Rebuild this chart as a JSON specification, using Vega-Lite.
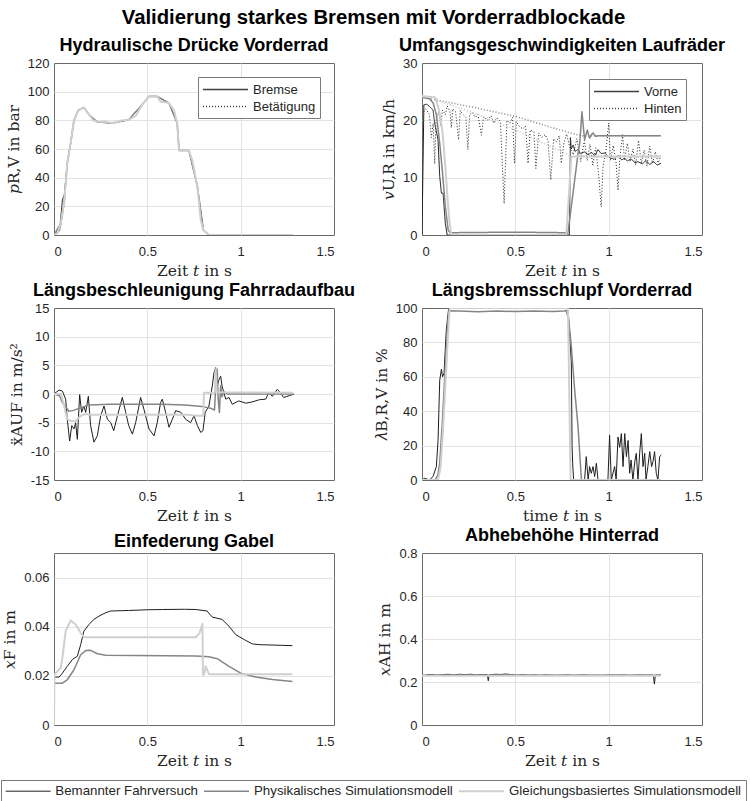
{
"$schema": "https://vega.github.io/schema/vega-lite/v6.json",
"title": {"text": "Validierung starkes Bremsen mit Vorderradblockade", "fontSize": 20.3, "font": "Liberation Sans", "fontWeight": "bold", "color": "#000000", "anchor": "middle", "offset": 8},
"padding": {"left": 0, "top": 8, "right": 4, "bottom": 0},
"bounds": "flush",
"columns": 2,
"spacing": {"row": 73, "column": 88},
"resolve": {"scale": {"strokeDash": "independent"}, "legend": {"strokeDash": "independent"}},
"datasets": {
"p1": [
{"t":0,"v":0,"m":"F","k":"Bremse"},{"t":0.03,"v":3,"m":"F","k":"Bremse"},{"t":0.045,"v":24.5,"m":"F","k":"Bremse"},{"t":0.055,"v":28,"m":"F","k":"Bremse"},{"t":0.071,"v":50,"m":"F","k":"Bremse"},{"t":0.089,"v":64,"m":"F","k":"Bremse"},{"t":0.107,"v":80,"m":"F","k":"Bremse"},{"t":0.13,"v":87,"m":"F","k":"Bremse"},{"t":0.16,"v":89,"m":"F","k":"Bremse"},{"t":0.1875,"v":84,"m":"F","k":"Bremse"},{"t":0.23,"v":79,"m":"F","k":"Bremse"},{"t":0.31,"v":78,"m":"F","k":"Bremse"},{"t":0.4,"v":80.4,"m":"F","k":"Bremse"},{"t":0.473,"v":91,"m":"F","k":"Bremse"},{"t":0.509,"v":96.7,"m":"F","k":"Bremse"},{"t":0.553,"v":96.7,"m":"F","k":"Bremse"},{"t":0.616,"v":92,"m":"F","k":"Bremse"},{"t":0.66,"v":78,"m":"F","k":"Bremse"},{"t":0.67,"v":59,"m":"F","k":"Bremse"},{"t":0.723,"v":59,"m":"F","k":"Bremse"},{"t":0.768,"v":34,"m":"F","k":"Bremse"},{"t":0.8,"v":3.5,"m":"F","k":"Bremse"},{"t":0.83,"v":0,"m":"F","k":"Bremse"},{"t":1.28,"v":0,"m":"F","k":"Bremse"},
{"t":0,"v":0,"m":"F","k":"Betätigung"},{"t":0.036,"v":6,"m":"F","k":"Betätigung"},{"t":0.054,"v":22,"m":"F","k":"Betätigung"},{"t":0.071,"v":50,"m":"F","k":"Betätigung"},{"t":0.089,"v":64,"m":"F","k":"Betätigung"},{"t":0.107,"v":80,"m":"F","k":"Betätigung"},{"t":0.13,"v":87,"m":"F","k":"Betätigung"},{"t":0.16,"v":89,"m":"F","k":"Betätigung"},{"t":0.1875,"v":84,"m":"F","k":"Betätigung"},{"t":0.23,"v":79,"m":"F","k":"Betätigung"},{"t":0.31,"v":78,"m":"F","k":"Betätigung"},{"t":0.4,"v":80.4,"m":"F","k":"Betätigung"},{"t":0.473,"v":91,"m":"F","k":"Betätigung"},{"t":0.509,"v":96.7,"m":"F","k":"Betätigung"},{"t":0.553,"v":96.7,"m":"F","k":"Betätigung"},{"t":0.616,"v":92,"m":"F","k":"Betätigung"},{"t":0.66,"v":78,"m":"F","k":"Betätigung"},{"t":0.67,"v":59,"m":"F","k":"Betätigung"},{"t":0.723,"v":59,"m":"F","k":"Betätigung"},{"t":0.768,"v":34,"m":"F","k":"Betätigung"},{"t":0.8,"v":3.5,"m":"F","k":"Betätigung"},{"t":0.83,"v":0,"m":"F","k":"Betätigung"},{"t":1.28,"v":0,"m":"F","k":"Betätigung"},
{"t":0,"v":0,"m":"P","k":"Bremse"},{"t":0.036,"v":8,"m":"P","k":"Bremse"},{"t":0.054,"v":22,"m":"P","k":"Bremse"},{"t":0.071,"v":50,"m":"P","k":"Bremse"},{"t":0.089,"v":64,"m":"P","k":"Bremse"},{"t":0.107,"v":80,"m":"P","k":"Bremse"},{"t":0.13,"v":87,"m":"P","k":"Bremse"},{"t":0.16,"v":89,"m":"P","k":"Bremse"},{"t":0.1875,"v":84,"m":"P","k":"Bremse"},{"t":0.23,"v":79,"m":"P","k":"Bremse"},{"t":0.31,"v":78,"m":"P","k":"Bremse"},{"t":0.4,"v":80.4,"m":"P","k":"Bremse"},{"t":0.473,"v":91,"m":"P","k":"Bremse"},{"t":0.509,"v":96.7,"m":"P","k":"Bremse"},{"t":0.553,"v":96.7,"m":"P","k":"Bremse"},{"t":0.616,"v":92,"m":"P","k":"Bremse"},{"t":0.66,"v":78,"m":"P","k":"Bremse"},{"t":0.67,"v":59,"m":"P","k":"Bremse"},{"t":0.723,"v":59,"m":"P","k":"Bremse"},{"t":0.768,"v":34,"m":"P","k":"Bremse"},{"t":0.8,"v":3.5,"m":"P","k":"Bremse"},{"t":0.83,"v":0,"m":"P","k":"Bremse"},{"t":1.28,"v":0,"m":"P","k":"Bremse"},
{"t":0,"v":0,"m":"G","k":"Bremse"},{"t":0.02,"v":1.5,"m":"G","k":"Bremse"},{"t":0.036,"v":8,"m":"G","k":"Bremse"},{"t":0.054,"v":22,"m":"G","k":"Bremse"},{"t":0.071,"v":50,"m":"G","k":"Bremse"},{"t":0.089,"v":64,"m":"G","k":"Bremse"},{"t":0.107,"v":80,"m":"G","k":"Bremse"},{"t":0.13,"v":87,"m":"G","k":"Bremse"},{"t":0.16,"v":89,"m":"G","k":"Bremse"},{"t":0.1875,"v":84,"m":"G","k":"Bremse"},{"t":0.21,"v":80,"m":"G","k":"Bremse"},{"t":0.23,"v":79,"m":"G","k":"Bremse"},{"t":0.27,"v":79,"m":"G","k":"Bremse"},{"t":0.295,"v":78.5,"m":"G","k":"Bremse"},{"t":0.31,"v":78,"m":"G","k":"Bremse"},{"t":0.34,"v":79,"m":"G","k":"Bremse"},{"t":0.366,"v":80,"m":"G","k":"Bremse"},{"t":0.4,"v":80.4,"m":"G","k":"Bremse"},{"t":0.4375,"v":83,"m":"G","k":"Bremse"},{"t":0.473,"v":91,"m":"G","k":"Bremse"},{"t":0.509,"v":96.7,"m":"G","k":"Bremse"},{"t":0.553,"v":96.7,"m":"G","k":"Bremse"},{"t":0.571,"v":93,"m":"G","k":"Bremse"},{"t":0.6,"v":92.5,"m":"G","k":"Bremse"},{"t":0.616,"v":92,"m":"G","k":"Bremse"},{"t":0.643,"v":87,"m":"G","k":"Bremse"},{"t":0.66,"v":78,"m":"G","k":"Bremse"},{"t":0.67,"v":59,"m":"G","k":"Bremse"},{"t":0.723,"v":59,"m":"G","k":"Bremse"},{"t":0.741,"v":52,"m":"G","k":"Bremse"},{"t":0.768,"v":34,"m":"G","k":"Bremse"},{"t":0.786,"v":10.5,"m":"G","k":"Bremse"},{"t":0.8,"v":3.5,"m":"G","k":"Bremse"},{"t":0.83,"v":0,"m":"G","k":"Bremse"},{"t":1.28,"v":0,"m":"G","k":"Bremse"}
],
"p2": [
{"t":0,"v":0,"m":"F","k":"Vorne"},{"t":0.01,"v":22.7,"m":"F","k":"Vorne"},{"t":0.025,"v":22.8,"m":"F","k":"Vorne"},{"t":0.041,"v":22.4,"m":"F","k":"Vorne"},{"t":0.059,"v":21.8,"m":"F","k":"Vorne"},{"t":0.068,"v":19.5,"m":"F","k":"Vorne"},{"t":0.086,"v":16.6,"m":"F","k":"Vorne"},{"t":0.095,"v":10.2,"m":"F","k":"Vorne"},{"t":0.104,"v":7.3,"m":"F","k":"Vorne"},{"t":0.113,"v":7.3,"m":"F","k":"Vorne"},{"t":0.125,"v":2,"m":"F","k":"Vorne"},{"t":0.135,"v":0,"m":"F","k":"Vorne"},{"t":0.79,"v":0,"m":"F","k":"Vorne"},{"t":0.795,"v":17,"m":"F","k":"Vorne"},{"t":0.8,"v":15,"m":"F","k":"Vorne"},{"t":0.81,"v":15.7,"m":"F","k":"Vorne"},{"t":0.82,"v":14.6,"m":"F","k":"Vorne"},{"t":0.836,"v":14.9,"m":"F","k":"Vorne"},{"t":0.85,"v":14.2,"m":"F","k":"Vorne"},{"t":0.87,"v":14.5,"m":"F","k":"Vorne"},{"t":0.89,"v":14,"m":"F","k":"Vorne"},{"t":0.91,"v":14.4,"m":"F","k":"Vorne"},{"t":0.925,"v":13.8,"m":"F","k":"Vorne"},{"t":0.943,"v":14.9,"m":"F","k":"Vorne"},{"t":0.96,"v":14.2,"m":"F","k":"Vorne"},{"t":0.98,"v":14.3,"m":"F","k":"Vorne"},{"t":1.0,"v":13.6,"m":"F","k":"Vorne"},{"t":1.03,"v":13.2,"m":"F","k":"Vorne"},{"t":1.05,"v":13.9,"m":"F","k":"Vorne"},{"t":1.07,"v":13.1,"m":"F","k":"Vorne"},{"t":1.086,"v":13.4,"m":"F","k":"Vorne"},{"t":1.1,"v":12.9,"m":"F","k":"Vorne"},{"t":1.12,"v":13.3,"m":"F","k":"Vorne"},{"t":1.14,"v":12.6,"m":"F","k":"Vorne"},{"t":1.157,"v":12.8,"m":"F","k":"Vorne"},{"t":1.18,"v":12.4,"m":"F","k":"Vorne"},{"t":1.2,"v":13,"m":"F","k":"Vorne"},{"t":1.22,"v":12.3,"m":"F","k":"Vorne"},{"t":1.24,"v":12.8,"m":"F","k":"Vorne"},{"t":1.26,"v":12.2,"m":"F","k":"Vorne"},{"t":1.28,"v":12.5,"m":"F","k":"Vorne"},
{"t":0.01,"v":21.5,"m":"F","k":"Hinten"},{"t":0.02,"v":22,"m":"F","k":"Hinten"},{"t":0.04,"v":21,"m":"F","k":"Hinten"},{"t":0.05,"v":17,"m":"F","k":"Hinten"},{"t":0.06,"v":19.5,"m":"F","k":"Hinten"},{"t":0.068,"v":12.4,"m":"F","k":"Hinten"},{"t":0.075,"v":20,"m":"F","k":"Hinten"},{"t":0.09,"v":21.5,"m":"F","k":"Hinten"},{"t":0.1,"v":19,"m":"F","k":"Hinten"},{"t":0.11,"v":21.8,"m":"F","k":"Hinten"},{"t":0.125,"v":21,"m":"F","k":"Hinten"},{"t":0.135,"v":22.5,"m":"F","k":"Hinten"},{"t":0.15,"v":21.5,"m":"F","k":"Hinten"},{"t":0.157,"v":18.7,"m":"F","k":"Hinten"},{"t":0.165,"v":22,"m":"F","k":"Hinten"},{"t":0.18,"v":21.5,"m":"F","k":"Hinten"},{"t":0.196,"v":16.6,"m":"F","k":"Hinten"},{"t":0.205,"v":21.7,"m":"F","k":"Hinten"},{"t":0.22,"v":21,"m":"F","k":"Hinten"},{"t":0.235,"v":20.5,"m":"F","k":"Hinten"},{"t":0.246,"v":14.9,"m":"F","k":"Hinten"},{"t":0.255,"v":21,"m":"F","k":"Hinten"},{"t":0.27,"v":21.4,"m":"F","k":"Hinten"},{"t":0.285,"v":20.5,"m":"F","k":"Hinten"},{"t":0.3,"v":21,"m":"F","k":"Hinten"},{"t":0.318,"v":17.4,"m":"F","k":"Hinten"},{"t":0.33,"v":20.6,"m":"F","k":"Hinten"},{"t":0.35,"v":20,"m":"F","k":"Hinten"},{"t":0.37,"v":20.8,"m":"F","k":"Hinten"},{"t":0.385,"v":19.5,"m":"F","k":"Hinten"},{"t":0.4,"v":20.5,"m":"F","k":"Hinten"},{"t":0.42,"v":19.8,"m":"F","k":"Hinten"},{"t":0.44,"v":5.5,"m":"F","k":"Hinten"},{"t":0.455,"v":20,"m":"F","k":"Hinten"},{"t":0.47,"v":19.5,"m":"F","k":"Hinten"},{"t":0.485,"v":20.5,"m":"F","k":"Hinten"},{"t":0.496,"v":12.5,"m":"F","k":"Hinten"},{"t":0.505,"v":19.8,"m":"F","k":"Hinten"},{"t":0.52,"v":19,"m":"F","k":"Hinten"},{"t":0.54,"v":18.5,"m":"F","k":"Hinten"},{"t":0.555,"v":19,"m":"F","k":"Hinten"},{"t":0.568,"v":12.5,"m":"F","k":"Hinten"},{"t":0.58,"v":18.3,"m":"F","k":"Hinten"},{"t":0.6,"v":18,"m":"F","k":"Hinten"},{"t":0.61,"v":11.6,"m":"F","k":"Hinten"},{"t":0.625,"v":17.8,"m":"F","k":"Hinten"},{"t":0.64,"v":17,"m":"F","k":"Hinten"},{"t":0.66,"v":17.5,"m":"F","k":"Hinten"},{"t":0.675,"v":16.5,"m":"F","k":"Hinten"},{"t":0.69,"v":9.6,"m":"F","k":"Hinten"},{"t":0.705,"v":16.8,"m":"F","k":"Hinten"},{"t":0.72,"v":16.2,"m":"F","k":"Hinten"},{"t":0.735,"v":17.3,"m":"F","k":"Hinten"},{"t":0.746,"v":12.5,"m":"F","k":"Hinten"},{"t":0.76,"v":16,"m":"F","k":"Hinten"},{"t":0.775,"v":17.6,"m":"F","k":"Hinten"},{"t":0.79,"v":15.5,"m":"F","k":"Hinten"},{"t":0.81,"v":14,"m":"F","k":"Hinten"},{"t":0.83,"v":16.8,"m":"F","k":"Hinten"},{"t":0.85,"v":12.8,"m":"F","k":"Hinten"},{"t":0.87,"v":16.5,"m":"F","k":"Hinten"},{"t":0.885,"v":13,"m":"F","k":"Hinten"},{"t":0.9,"v":15.8,"m":"F","k":"Hinten"},{"t":0.915,"v":12.2,"m":"F","k":"Hinten"},{"t":0.93,"v":15.2,"m":"F","k":"Hinten"},{"t":0.945,"v":11,"m":"F","k":"Hinten"},{"t":0.96,"v":4.9,"m":"F","k":"Hinten"},{"t":0.97,"v":12,"m":"F","k":"Hinten"},{"t":0.985,"v":14.5,"m":"F","k":"Hinten"},{"t":1.0,"v":19.5,"m":"F","k":"Hinten"},{"t":1.01,"v":13,"m":"F","k":"Hinten"},{"t":1.025,"v":15.6,"m":"F","k":"Hinten"},{"t":1.04,"v":12.5,"m":"F","k":"Hinten"},{"t":1.05,"v":7.8,"m":"F","k":"Hinten"},{"t":1.06,"v":13.5,"m":"F","k":"Hinten"},{"t":1.075,"v":17.5,"m":"F","k":"Hinten"},{"t":1.085,"v":13,"m":"F","k":"Hinten"},{"t":1.1,"v":16,"m":"F","k":"Hinten"},{"t":1.115,"v":12.8,"m":"F","k":"Hinten"},{"t":1.13,"v":15,"m":"F","k":"Hinten"},{"t":1.145,"v":12.2,"m":"F","k":"Hinten"},{"t":1.16,"v":16.5,"m":"F","k":"Hinten"},{"t":1.175,"v":12.5,"m":"F","k":"Hinten"},{"t":1.19,"v":14.8,"m":"F","k":"Hinten"},{"t":1.205,"v":12,"m":"F","k":"Hinten"},{"t":1.22,"v":15.5,"m":"F","k":"Hinten"},{"t":1.235,"v":12.5,"m":"F","k":"Hinten"},{"t":1.25,"v":14.5,"m":"F","k":"Hinten"},{"t":1.265,"v":12.6,"m":"F","k":"Hinten"},{"t":1.28,"v":13.8,"m":"F","k":"Hinten"},
{"t":0,"v":24,"m":"P","k":"Vorne"},{"t":0.04,"v":23.8,"m":"P","k":"Vorne"},{"t":0.06,"v":23,"m":"P","k":"Vorne"},{"t":0.077,"v":21,"m":"P","k":"Vorne"},{"t":0.095,"v":16,"m":"P","k":"Vorne"},{"t":0.11,"v":10.8,"m":"P","k":"Vorne"},{"t":0.125,"v":5,"m":"P","k":"Vorne"},{"t":0.14,"v":0.9,"m":"P","k":"Vorne"},{"t":0.15,"v":0.4,"m":"P","k":"Vorne"},{"t":0.5,"v":0.5,"m":"P","k":"Vorne"},{"t":0.764,"v":0.4,"m":"P","k":"Vorne"},{"t":0.78,"v":0,"m":"P","k":"Vorne"},{"t":0.8,"v":5,"m":"P","k":"Vorne"},{"t":0.818,"v":9.6,"m":"P","k":"Vorne"},{"t":0.835,"v":14,"m":"P","k":"Vorne"},{"t":0.845,"v":16,"m":"P","k":"Vorne"},{"t":0.857,"v":21.5,"m":"P","k":"Vorne"},{"t":0.864,"v":19,"m":"P","k":"Vorne"},{"t":0.871,"v":16.6,"m":"P","k":"Vorne"},{"t":0.878,"v":17.5,"m":"P","k":"Vorne"},{"t":0.886,"v":18.3,"m":"P","k":"Vorne"},{"t":0.892,"v":17.5,"m":"P","k":"Vorne"},{"t":0.898,"v":16.9,"m":"P","k":"Vorne"},{"t":0.907,"v":17.5,"m":"P","k":"Vorne"},{"t":0.916,"v":17.8,"m":"P","k":"Vorne"},{"t":0.93,"v":17.2,"m":"P","k":"Vorne"},{"t":0.943,"v":17.3,"m":"P","k":"Vorne"},{"t":1.28,"v":17.3,"m":"P","k":"Vorne"},
{"t":0,"v":24,"m":"P","k":"Hinten"},{"t":0.1,"v":23.4,"m":"P","k":"Hinten"},{"t":0.3,"v":22.1,"m":"P","k":"Hinten"},{"t":0.5,"v":20.7,"m":"P","k":"Hinten"},{"t":0.7,"v":18.7,"m":"P","k":"Hinten"},{"t":0.84,"v":17.4,"m":"P","k":"Hinten"},{"t":0.86,"v":17.3,"m":"P","k":"Hinten"},{"t":1.28,"v":17.3,"m":"P","k":"Hinten"},
{"t":0,"v":24.2,"m":"G","k":"Vorne"},{"t":0.07,"v":24,"m":"G","k":"Vorne"},{"t":0.09,"v":22,"m":"G","k":"Vorne"},{"t":0.11,"v":18,"m":"G","k":"Vorne"},{"t":0.125,"v":12,"m":"G","k":"Vorne"},{"t":0.136,"v":6.7,"m":"G","k":"Vorne"},{"t":0.148,"v":2,"m":"G","k":"Vorne"},{"t":0.157,"v":0,"m":"G","k":"Vorne"},{"t":0.773,"v":0,"m":"G","k":"Vorne"},{"t":0.785,"v":6,"m":"G","k":"Vorne"},{"t":0.8,"v":13.7,"m":"G","k":"Vorne"},{"t":1.28,"v":13.7,"m":"G","k":"Vorne"},
{"t":0,"v":24.2,"m":"G","k":"Hinten"},{"t":0.07,"v":24,"m":"G","k":"Hinten"},{"t":0.1,"v":23.2,"m":"G","k":"Hinten"},{"t":0.264,"v":21.5,"m":"G","k":"Hinten"},{"t":0.5,"v":18.3,"m":"G","k":"Hinten"},{"t":0.7,"v":15.3,"m":"G","k":"Hinten"},{"t":0.8,"v":13.7,"m":"G","k":"Hinten"},{"t":1.28,"v":13.7,"m":"G","k":"Hinten"}
],
"p3": [
{"t":0,"v":0,"m":"F"},{"t":0.027,"v":0.7,"m":"F"},{"t":0.045,"v":0.5,"m":"F"},{"t":0.0625,"v":-0.9,"m":"F"},{"t":0.071,"v":-4.4,"m":"F"},{"t":0.084,"v":-8.2,"m":"F"},{"t":0.095,"v":-5.5,"m":"F"},{"t":0.107,"v":-6.1,"m":"F"},{"t":0.116,"v":-5,"m":"F"},{"t":0.125,"v":-7.9,"m":"F"},{"t":0.1375,"v":-0.1,"m":"F"},{"t":0.148,"v":-3.2,"m":"F"},{"t":0.16,"v":-2.1,"m":"F"},{"t":0.17,"v":-3.2,"m":"F"},{"t":0.184,"v":-0.4,"m":"F"},{"t":0.196,"v":-5.5,"m":"F"},{"t":0.214,"v":-8.4,"m":"F"},{"t":0.232,"v":-7.3,"m":"F"},{"t":0.25,"v":-3.8,"m":"F"},{"t":0.268,"v":-2.1,"m":"F"},{"t":0.286,"v":-4.4,"m":"F"},{"t":0.304,"v":-5,"m":"F"},{"t":0.32,"v":-6.4,"m":"F"},{"t":0.34,"v":-3.8,"m":"F"},{"t":0.366,"v":-0.6,"m":"F"},{"t":0.384,"v":-3.2,"m":"F"},{"t":0.4,"v":-5.5,"m":"F"},{"t":0.42,"v":-7,"m":"F"},{"t":0.4375,"v":-5,"m":"F"},{"t":0.455,"v":-2.1,"m":"F"},{"t":0.464,"v":-0.6,"m":"F"},{"t":0.482,"v":-2.7,"m":"F"},{"t":0.509,"v":-6.1,"m":"F"},{"t":0.536,"v":-7.3,"m":"F"},{"t":0.553,"v":-5,"m":"F"},{"t":0.571,"v":-1.5,"m":"F"},{"t":0.58,"v":-0.9,"m":"F"},{"t":0.598,"v":-3.2,"m":"F"},{"t":0.616,"v":-5.8,"m":"F"},{"t":0.634,"v":-4.4,"m":"F"},{"t":0.652,"v":-2.9,"m":"F"},{"t":0.68,"v":-3.2,"m":"F"},{"t":0.705,"v":-4.4,"m":"F"},{"t":0.732,"v":-5,"m":"F"},{"t":0.75,"v":-3.8,"m":"F"},{"t":0.768,"v":-5.5,"m":"F"},{"t":0.786,"v":-6.7,"m":"F"},{"t":0.798,"v":-6.4,"m":"F"},{"t":0.81,"v":-3.2,"m":"F"},{"t":0.83,"v":-2.1,"m":"F"},{"t":0.848,"v":1.4,"m":"F"},{"t":0.857,"v":3.7,"m":"F"},{"t":0.866,"v":4.6,"m":"F"},{"t":0.875,"v":1.4,"m":"F"},{"t":0.884,"v":2.5,"m":"F"},{"t":0.893,"v":3.1,"m":"F"},{"t":0.9,"v":1.4,"m":"F"},{"t":0.92,"v":-0.9,"m":"F"},{"t":0.9375,"v":-0.6,"m":"F"},{"t":0.955,"v":-1.8,"m":"F"},{"t":0.99,"v":-1.2,"m":"F"},{"t":1.027,"v":-1.6,"m":"F"},{"t":1.06,"v":-1.4,"m":"F"},{"t":1.1,"v":-1,"m":"F"},{"t":1.134,"v":-0.9,"m":"F"},{"t":1.15,"v":0.2,"m":"F"},{"t":1.17,"v":-0.4,"m":"F"},{"t":1.196,"v":0.8,"m":"F"},{"t":1.214,"v":0.2,"m":"F"},{"t":1.23,"v":-0.6,"m":"F"},{"t":1.26,"v":-0.3,"m":"F"},{"t":1.286,"v":0,"m":"F"},
{"t":0,"v":0,"m":"P"},{"t":0.03,"v":-0.3,"m":"P"},{"t":0.045,"v":-1.5,"m":"P"},{"t":0.08,"v":-3,"m":"P"},{"t":0.1,"v":-2.9,"m":"P"},{"t":0.134,"v":-2.5,"m":"P"},{"t":0.1875,"v":-1.9,"m":"P"},{"t":0.3,"v":-1.8,"m":"P"},{"t":0.58,"v":-1.8,"m":"P"},{"t":0.7,"v":-1.9,"m":"P"},{"t":0.795,"v":-2.2,"m":"P"},{"t":0.84,"v":-2.5,"m":"P"},{"t":0.86,"v":-2.8,"m":"P"},{"t":0.868,"v":2.5,"m":"P"},{"t":0.874,"v":4.3,"m":"P"},{"t":0.88,"v":-1,"m":"P"},{"t":0.886,"v":-3.2,"m":"P"},{"t":0.893,"v":1.5,"m":"P"},{"t":0.9,"v":-0.5,"m":"P"},{"t":0.91,"v":0.4,"m":"P"},{"t":0.93,"v":0,"m":"P"},{"t":1.28,"v":0,"m":"P"},
{"t":0,"v":0,"m":"G"},{"t":0.036,"v":0,"m":"G"},{"t":0.05,"v":-1.5,"m":"G"},{"t":0.071,"v":-4.4,"m":"G"},{"t":0.09,"v":-4.7,"m":"G"},{"t":0.116,"v":-4.7,"m":"G"},{"t":0.143,"v":-3.8,"m":"G"},{"t":0.17,"v":-3.5,"m":"G"},{"t":0.2,"v":-3.6,"m":"G"},{"t":0.723,"v":-3.6,"m":"G"},{"t":0.76,"v":-3.8,"m":"G"},{"t":0.8,"v":-3.8,"m":"G"},{"t":0.803,"v":0.2,"m":"G"},{"t":0.85,"v":0.2,"m":"G"},{"t":0.862,"v":0.3,"m":"G"},{"t":0.866,"v":4.3,"m":"G"},{"t":0.872,"v":0.3,"m":"G"},{"t":1.28,"v":0.2,"m":"G"}
],
"p4": [
{"t":0,"v":0,"m":"F"},{"t":0.014,"v":1,"m":"F"},{"t":0.04,"v":0,"m":"F"},{"t":0.059,"v":2,"m":"F"},{"t":0.077,"v":7.8,"m":"F"},{"t":0.086,"v":23,"m":"F"},{"t":0.095,"v":58,"m":"F"},{"t":0.104,"v":64.4,"m":"F"},{"t":0.11,"v":60,"m":"F"},{"t":0.118,"v":62,"m":"F"},{"t":0.13,"v":87,"m":"F"},{"t":0.143,"v":100,"m":"F"},{"t":0.782,"v":100,"m":"F"},{"t":0.79,"v":87,"m":"F"},{"t":0.8,"v":68,"m":"F"},{"t":0.804,"v":20,"m":"F"},{"t":0.807,"v":9.7,"m":"F"},{"t":0.8125,"v":0,"m":"F"},{"t":0.871,"v":0,"m":"F"},{"t":0.88,"v":13.6,"m":"F"},{"t":0.89,"v":0,"m":"F"},{"t":0.898,"v":7.8,"m":"F"},{"t":0.907,"v":3.9,"m":"F"},{"t":0.916,"v":7.8,"m":"F"},{"t":0.925,"v":2,"m":"F"},{"t":0.934,"v":9.7,"m":"F"},{"t":0.943,"v":0,"m":"F"},{"t":0.996,"v":0,"m":"F"},{"t":1.005,"v":26,"m":"F"},{"t":1.014,"v":0,"m":"F"},{"t":1.032,"v":7.8,"m":"F"},{"t":1.04,"v":0,"m":"F"},{"t":1.05,"v":25,"m":"F"},{"t":1.059,"v":19,"m":"F"},{"t":1.068,"v":27,"m":"F"},{"t":1.077,"v":7.8,"m":"F"},{"t":1.086,"v":27,"m":"F"},{"t":1.095,"v":13.6,"m":"F"},{"t":1.104,"v":23,"m":"F"},{"t":1.1125,"v":3.9,"m":"F"},{"t":1.12,"v":11.6,"m":"F"},{"t":1.13,"v":0,"m":"F"},{"t":1.14,"v":10.7,"m":"F"},{"t":1.148,"v":15.5,"m":"F"},{"t":1.157,"v":0,"m":"F"},{"t":1.166,"v":15.5,"m":"F"},{"t":1.175,"v":27,"m":"F"},{"t":1.184,"v":7.8,"m":"F"},{"t":1.193,"v":15.5,"m":"F"},{"t":1.2,"v":0,"m":"F"},{"t":1.21,"v":7.8,"m":"F"},{"t":1.22,"v":16.5,"m":"F"},{"t":1.23,"v":7.8,"m":"F"},{"t":1.2375,"v":10.7,"m":"F"},{"t":1.246,"v":16.5,"m":"F"},{"t":1.255,"v":3.9,"m":"F"},{"t":1.264,"v":0,"m":"F"},{"t":1.273,"v":13.6,"m":"F"},{"t":1.282,"v":14.5,"m":"F"},
{"t":0,"v":0,"m":"P"},{"t":0.07,"v":0,"m":"P"},{"t":0.085,"v":3,"m":"P"},{"t":0.095,"v":10,"m":"P"},{"t":0.108,"v":32,"m":"P"},{"t":0.121,"v":58,"m":"P"},{"t":0.139,"v":93,"m":"P"},{"t":0.148,"v":98.4,"m":"P"},{"t":0.2,"v":98.2,"m":"P"},{"t":0.3,"v":97.8,"m":"P"},{"t":0.4,"v":98.3,"m":"P"},{"t":0.5,"v":97.9,"m":"P"},{"t":0.6,"v":98.2,"m":"P"},{"t":0.7,"v":98,"m":"P"},{"t":0.76,"v":98.3,"m":"P"},{"t":0.773,"v":98.5,"m":"P"},{"t":0.786,"v":93,"m":"P"},{"t":0.8,"v":77.6,"m":"P"},{"t":0.818,"v":52,"m":"P"},{"t":0.836,"v":31,"m":"P"},{"t":0.854,"v":0,"m":"P"},{"t":1.28,"v":0,"m":"P"},
{"t":0,"v":0,"m":"G"},{"t":0.086,"v":0,"m":"G"},{"t":0.1,"v":8,"m":"G"},{"t":0.1125,"v":29,"m":"G"},{"t":0.125,"v":55,"m":"G"},{"t":0.136,"v":77.7,"m":"G"},{"t":0.148,"v":100,"m":"G"},{"t":0.782,"v":100,"m":"G"},{"t":0.796,"v":0,"m":"G"},{"t":1.28,"v":0,"m":"G"}
],
"p5": [
{"t":0,"v":0.0195,"m":"F"},{"t":0.027,"v":0.0195,"m":"F"},{"t":0.045,"v":0.0211,"m":"F"},{"t":0.071,"v":0.0239,"m":"F"},{"t":0.098,"v":0.0266,"m":"F"},{"t":0.125,"v":0.028,"m":"F"},{"t":0.143,"v":0.0327,"m":"F"},{"t":0.16,"v":0.0382,"m":"F"},{"t":0.1875,"v":0.0409,"m":"F"},{"t":0.214,"v":0.043,"m":"F"},{"t":0.241,"v":0.0443,"m":"F"},{"t":0.277,"v":0.0457,"m":"F"},{"t":0.304,"v":0.0464,"m":"F"},{"t":0.4,"v":0.0466,"m":"F"},{"t":0.5,"v":0.0469,"m":"F"},{"t":0.58,"v":0.047,"m":"F"},{"t":0.7,"v":0.0471,"m":"F"},{"t":0.76,"v":0.047,"m":"F"},{"t":0.82,"v":0.0464,"m":"F"},{"t":0.848,"v":0.0439,"m":"F"},{"t":0.9,"v":0.043,"m":"F"},{"t":0.9375,"v":0.0402,"m":"F"},{"t":0.973,"v":0.0368,"m":"F"},{"t":1.018,"v":0.0348,"m":"F"},{"t":1.0625,"v":0.033,"m":"F"},{"t":1.098,"v":0.0327,"m":"F"},{"t":1.277,"v":0.0323,"m":"F"},
{"t":0,"v":0.017,"m":"P"},{"t":0.045,"v":0.017,"m":"P"},{"t":0.071,"v":0.0184,"m":"P"},{"t":0.107,"v":0.0225,"m":"P"},{"t":0.143,"v":0.0286,"m":"P"},{"t":0.17,"v":0.0303,"m":"P"},{"t":0.196,"v":0.0304,"m":"P"},{"t":0.232,"v":0.029,"m":"P"},{"t":0.277,"v":0.0284,"m":"P"},{"t":0.76,"v":0.0281,"m":"P"},{"t":0.83,"v":0.0278,"m":"P"},{"t":0.875,"v":0.027,"m":"P"},{"t":0.9375,"v":0.0239,"m":"P"},{"t":1.0,"v":0.0211,"m":"P"},{"t":1.08,"v":0.0195,"m":"P"},{"t":1.17,"v":0.0185,"m":"P"},{"t":1.277,"v":0.0177,"m":"P"},
{"t":0,"v":0,"m":"G"},{"t":0.002,"v":0.0205,"m":"G"},{"t":0.009,"v":0.0211,"m":"G"},{"t":0.036,"v":0.0232,"m":"G"},{"t":0.045,"v":0.0273,"m":"G"},{"t":0.0625,"v":0.0382,"m":"G"},{"t":0.089,"v":0.0425,"m":"G"},{"t":0.116,"v":0.0409,"m":"G"},{"t":0.143,"v":0.0375,"m":"G"},{"t":0.16,"v":0.0357,"m":"G"},{"t":0.76,"v":0.0357,"m":"G"},{"t":0.78,"v":0.0375,"m":"G"},{"t":0.795,"v":0.0412,"m":"G"},{"t":0.798,"v":0.0205,"m":"G"},{"t":0.804,"v":0.0205,"m":"G"},{"t":0.8125,"v":0.0239,"m":"G"},{"t":0.83,"v":0.0207,"m":"G"},{"t":1.277,"v":0.0207,"m":"G"}
],
"p6": [
{"t":0.02,"v":0.233,"m":"F"},{"t":0.05,"v":0.235,"m":"F"},{"t":0.08,"v":0.232,"m":"F"},{"t":0.11,"v":0.234,"m":"F"},{"t":0.14,"v":0.236,"m":"F"},{"t":0.17,"v":0.233,"m":"F"},{"t":0.2,"v":0.236,"m":"F"},{"t":0.23,"v":0.234,"m":"F"},{"t":0.26,"v":0.236,"m":"F"},{"t":0.29,"v":0.233,"m":"F"},{"t":0.32,"v":0.235,"m":"F"},{"t":0.35,"v":0.234,"m":"F"},{"t":0.355,"v":0.206,"m":"F"},{"t":0.36,"v":0.233,"m":"F"},{"t":0.39,"v":0.236,"m":"F"},{"t":0.42,"v":0.235,"m":"F"},{"t":0.45,"v":0.237,"m":"F"},{"t":0.48,"v":0.234,"m":"F"},{"t":0.51,"v":0.232,"m":"F"},{"t":0.54,"v":0.234,"m":"F"},{"t":0.57,"v":0.232,"m":"F"},{"t":0.6,"v":0.233,"m":"F"},{"t":0.63,"v":0.231,"m":"F"},{"t":0.66,"v":0.233,"m":"F"},{"t":0.69,"v":0.232,"m":"F"},{"t":0.72,"v":0.231,"m":"F"},{"t":0.75,"v":0.232,"m":"F"},{"t":0.78,"v":0.233,"m":"F"},{"t":0.81,"v":0.231,"m":"F"},{"t":0.84,"v":0.232,"m":"F"},{"t":0.87,"v":0.233,"m":"F"},{"t":0.9,"v":0.231,"m":"F"},{"t":0.93,"v":0.232,"m":"F"},{"t":0.96,"v":0.231,"m":"F"},{"t":0.99,"v":0.232,"m":"F"},{"t":1.02,"v":0.233,"m":"F"},{"t":1.05,"v":0.232,"m":"F"},{"t":1.08,"v":0.233,"m":"F"},{"t":1.11,"v":0.231,"m":"F"},{"t":1.14,"v":0.232,"m":"F"},{"t":1.17,"v":0.233,"m":"F"},{"t":1.2,"v":0.232,"m":"F"},{"t":1.23,"v":0.233,"m":"F"},{"t":1.24,"v":0.231,"m":"F"},{"t":1.245,"v":0.19,"m":"F"},{"t":1.25,"v":0.232,"m":"F"},{"t":1.28,"v":0.233,"m":"F"},
{"t":0,"v":0.231,"m":"P"},{"t":1.28,"v":0.231,"m":"P"},
{"t":0,"v":0.229,"m":"G"},{"t":1.28,"v":0.229,"m":"G"}
]
},
"concat": [
{
"width": 280, "height": 172, "title": "Hydraulische Drücke Vorderrad",
"data": {"name": "p1"},
"mark": {"type": "line", "clip": true},
"encoding": {
"x": {"field": "t", "type": "quantitative", "scale": {"domain": [0, 1.5], "nice": false}, "axis": {"values": [0, 0.5, 1, 1.5], "labelExpr": "toString(datum.value)", "gridOpacity": {"condition": {"test": "datum.value == 0 || datum.value == 1.5", "value": 0}, "value": 1}, "title": "Zeit 𝑡 in s"}},
"y": {"field": "v", "type": "quantitative", "scale": {"domain": [0, 120], "nice": false}, "axis": {"values": [0, 20, 40, 60, 80, 100, 120], "labelExpr": "toString(datum.value)", "gridOpacity": {"condition": {"test": "datum.value == 0 || datum.value == 120", "value": 0}, "value": 1}, "title": "𝑝R,V in bar"}},
"color": {"field": "m", "type": "nominal", "scale": {"domain": ["F", "P", "G"], "range": ["#1f1f1f", "#858585", "#cfcfcf"]}, "legend": {"title": null, "orient": "none", "legendX": -53, "legendY": 717, "direction": "horizontal", "symbolType": "M-1,0H6.5", "symbolSize": 144, "labelOffset": 37, "labelFontSize": 13.3, "labelLimit": 400, "labelColor": "#262626", "strokeColor": "#7a7a7a", "fillColor": "#ffffff", "padding": 4, "columnPadding": 5, "labelExpr": "datum.label == 'F' ? 'Bemannter Fahrversuch' : datum.label == 'P' ? 'Physikalisches Simulationsmodell' : 'Gleichungsbasiertes Simulationsmodell'"}},
"strokeWidth": {"field": "m", "type": "ordinal", "scale": {"domain": ["F", "P", "G"], "range": [1, 2, 3]}, "legend": {"title": null, "orient": "none", "legendX": -53, "legendY": 717, "direction": "horizontal", "symbolType": "M-1,0H6.5", "symbolSize": 144, "labelOffset": 37, "labelFontSize": 13.3, "labelLimit": 400, "labelColor": "#262626", "strokeColor": "#7a7a7a", "fillColor": "#ffffff", "padding": 4, "columnPadding": 5, "labelExpr": "datum.label == 'F' ? 'Bemannter Fahrversuch' : datum.label == 'P' ? 'Physikalisches Simulationsmodell' : 'Gleichungsbasiertes Simulationsmodell'"}},
"strokeDash": {"field": "k", "type": "nominal", "scale": {"domain": ["Bremse", "Betätigung"], "range": [[1, 0], [1, 2]]}, "legend": {"title": null, "orient": "top-right", "offset": 14, "symbolType": "M-1,0H5", "symbolSize": 225, "symbolStrokeColor": "#404040", "symbolStrokeWidth": 1.5, "labelOffset": 34, "labelFontSize": 13, "labelColor": "#262626", "strokeColor": "#7a7a7a", "fillColor": "#ffffff", "padding": 4, "rowPadding": 1}}
}
},
{
"width": 280, "height": 172, "title": "Umfangsgeschwindigkeiten Laufräder",
"data": {"name": "p2"},
"mark": {"type": "line", "clip": true},
"encoding": {
"x": {"field": "t", "type": "quantitative", "scale": {"domain": [0, 1.5], "nice": false}, "axis": {"values": [0, 0.5, 1, 1.5], "labelExpr": "toString(datum.value)", "gridOpacity": {"condition": {"test": "datum.value == 0 || datum.value == 1.5", "value": 0}, "value": 1}, "title": "Zeit 𝑡 in s"}},
"y": {"field": "v", "type": "quantitative", "scale": {"domain": [0, 30], "nice": false}, "axis": {"values": [0, 10, 20, 30], "labelExpr": "toString(datum.value)", "gridOpacity": {"condition": {"test": "datum.value == 0 || datum.value == 30", "value": 0}, "value": 1}, "title": "𝑣U,R in km/h"}},
"color": {"field": "m", "type": "nominal", "scale": {"domain": ["F", "P", "G"], "range": ["#1f1f1f", "#858585", "#cfcfcf"]}},
"strokeWidth": {"field": "m", "type": "ordinal", "scale": {"domain": ["F", "P", "G"], "range": [1, 2, 3]}},
"strokeDash": {"field": "k", "type": "nominal", "scale": {"domain": ["Vorne", "Hinten"], "range": [[1, 0], [1, 2]]}, "legend": {"title": null, "orient": "top-right", "offset": 16, "symbolType": "M-1,0H5", "symbolSize": 225, "symbolStrokeColor": "#404040", "symbolStrokeWidth": 1.5, "labelOffset": 34, "labelFontSize": 13, "labelColor": "#262626", "strokeColor": "#7a7a7a", "fillColor": "#ffffff", "padding": 4, "rowPadding": 1}}
}
},
{
"width": 280, "height": 172, "title": "Längsbeschleunigung Fahrradaufbau",
"data": {"name": "p3"},
"mark": {"type": "line", "clip": true},
"encoding": {
"x": {"field": "t", "type": "quantitative", "scale": {"domain": [0, 1.5], "nice": false}, "axis": {"values": [0, 0.5, 1, 1.5], "labelExpr": "toString(datum.value)", "gridOpacity": {"condition": {"test": "datum.value == 0 || datum.value == 1.5", "value": 0}, "value": 1}, "title": "Zeit 𝑡 in s"}},
"y": {"field": "v", "type": "quantitative", "scale": {"domain": [-15, 15], "nice": false}, "axis": {"values": [-15, -10, -5, 0, 5, 10, 15], "labelExpr": "toString(datum.value)", "gridOpacity": {"condition": {"test": "datum.value == -15 || datum.value == 15", "value": 0}, "value": 1}, "title": "ẍAUF in m/s²"}},
"color": {"field": "m", "type": "nominal", "scale": {"domain": ["F", "P", "G"], "range": ["#1f1f1f", "#858585", "#cfcfcf"]}},
"strokeWidth": {"field": "m", "type": "ordinal", "scale": {"domain": ["F", "P", "G"], "range": [1, 2, 3]}}
}
},
{
"width": 280, "height": 172, "title": "Längsbremsschlupf Vorderrad",
"data": {"name": "p4"},
"mark": {"type": "line", "clip": true},
"encoding": {
"x": {"field": "t", "type": "quantitative", "scale": {"domain": [0, 1.5], "nice": false}, "axis": {"values": [0, 0.5, 1, 1.5], "labelExpr": "toString(datum.value)", "gridOpacity": {"condition": {"test": "datum.value == 0 || datum.value == 1.5", "value": 0}, "value": 1}, "title": "time 𝑡 in s"}},
"y": {"field": "v", "type": "quantitative", "scale": {"domain": [0, 100], "nice": false}, "axis": {"values": [0, 20, 40, 60, 80, 100], "labelExpr": "toString(datum.value)", "gridOpacity": {"condition": {"test": "datum.value == 0 || datum.value == 100", "value": 0}, "value": 1}, "title": "𝜆B,R,V in %"}},
"color": {"field": "m", "type": "nominal", "scale": {"domain": ["F", "P", "G"], "range": ["#1f1f1f", "#858585", "#cfcfcf"]}},
"strokeWidth": {"field": "m", "type": "ordinal", "scale": {"domain": ["F", "P", "G"], "range": [1, 2, 3]}}
}
},
{
"width": 280, "height": 172, "title": "Einfederung Gabel",
"data": {"name": "p5"},
"mark": {"type": "line", "clip": true},
"encoding": {
"x": {"field": "t", "type": "quantitative", "scale": {"domain": [0, 1.5], "nice": false}, "axis": {"values": [0, 0.5, 1, 1.5], "labelExpr": "toString(datum.value)", "gridOpacity": {"condition": {"test": "datum.value == 0 || datum.value == 1.5", "value": 0}, "value": 1}, "title": "Zeit 𝑡 in s"}},
"y": {"field": "v", "type": "quantitative", "scale": {"domain": [0, 0.07], "nice": false, "zero": false}, "axis": {"values": [0, 0.02, 0.04, 0.06], "labelExpr": "toString(datum.value)", "gridOpacity": {"condition": {"test": "datum.value == 0", "value": 0}, "value": 1}, "title": "𝑥F in m"}},
"color": {"field": "m", "type": "nominal", "scale": {"domain": ["F", "P", "G"], "range": ["#1f1f1f", "#858585", "#cfcfcf"]}},
"strokeWidth": {"field": "m", "type": "ordinal", "scale": {"domain": ["F", "P", "G"], "range": [1, 2, 3]}}
}
},
{
"width": 280, "height": 172, "title": "Abhebehöhe Hinterrad",
"data": {"name": "p6"},
"mark": {"type": "line", "clip": true},
"encoding": {
"x": {"field": "t", "type": "quantitative", "scale": {"domain": [0, 1.5], "nice": false}, "axis": {"values": [0, 0.5, 1, 1.5], "labelExpr": "toString(datum.value)", "gridOpacity": {"condition": {"test": "datum.value == 0 || datum.value == 1.5", "value": 0}, "value": 1}, "title": "Zeit 𝑡 in s"}},
"y": {"field": "v", "type": "quantitative", "scale": {"domain": [0, 0.8], "nice": false}, "axis": {"values": [0, 0.2, 0.4, 0.6, 0.8], "labelExpr": "toString(datum.value)", "gridOpacity": {"condition": {"test": "datum.value == 0 || datum.value == 0.8", "value": 0}, "value": 1}, "title": "𝑥AH in m"}},
"color": {"field": "m", "type": "nominal", "scale": {"domain": ["F", "P", "G"], "range": ["#1f1f1f", "#858585", "#cfcfcf"]}},
"strokeWidth": {"field": "m", "type": "ordinal", "scale": {"domain": ["F", "P", "G"], "range": [1, 2, 3]}}
}
}
],
"config": {
"font": "Liberation Sans",
"background": "#ffffff",
"view": {"stroke": "#6b6b6b", "strokeWidth": 1},
"axis": {"grid": true, "gridColor": "#e3e3e3", "gridWidth": 1, "domain": false, "ticks": false, "labelFontSize": 13, "labelColor": "#262626", "labelFont": "Liberation Sans", "titleFont": "DejaVu Serif", "titleFontWeight": "normal", "titleFontSize": 15.5, "titleColor": "#262626"},
"axisX": {"labelPadding": 10, "titlePadding": 5},
"axisY": {"labelPadding": 5, "titlePadding": 6},
"title": {"font": "Liberation Sans", "fontSize": 18, "fontWeight": "bold", "color": "#000000", "offset": 2},
"line": {"strokeCap": "butt", "strokeJoin": "round"}
}
}
